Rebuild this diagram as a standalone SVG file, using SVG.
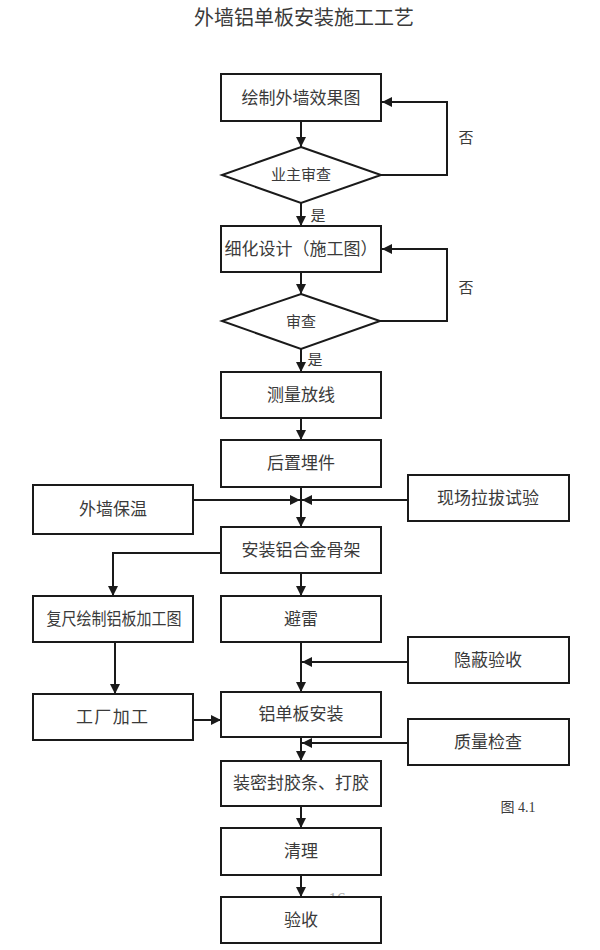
<svg xmlns="http://www.w3.org/2000/svg" width="600" height="950" viewBox="0 0 600 950">
<style>
.box{fill:#fff;stroke:#1a1a1a;stroke-width:2}
.t{font-family:"Noto Sans CJK SC","Noto Sans CJK JP",sans-serif;font-size:17px;fill:#3a3a3a;text-anchor:middle}
.s{font-size:15px}
.ln{fill:none;stroke:#1a1a1a;stroke-width:2}
.lbl{font-family:"Liberation Serif","Noto Sans CJK SC",serif;font-size:15px;fill:#3a3a3a;text-anchor:middle}
</style>
<defs>
<marker id="ah" viewBox="0 0 10 10" refX="10" refY="5" markerWidth="10" markerHeight="10" markerUnits="userSpaceOnUse" orient="auto">
<path d="M0,0 L10,5 L0,10 z" fill="#1a1a1a"/>
</marker>
</defs>
<rect width="600" height="950" fill="#fff"/>
<text x="304" y="25" class="t" style="font-size:20px">外墙铝单板安装施工工艺</text>

<text x="337" y="904" style="font-family:'Liberation Serif',serif;font-size:17px;fill:#aaa;text-anchor:middle">16</text>

<g id="connectors">
<path class="ln" d="M301,121 V147" marker-end="url(#ah)"/>
<path class="ln" d="M381,175 H447 V102 H382" marker-end="url(#ah)"/>
<path class="ln" d="M301,203 V226" marker-end="url(#ah)"/>
<path class="ln" d="M301,272 V294" marker-end="url(#ah)"/>
<path class="ln" d="M380,321 H447 V249 H382" marker-end="url(#ah)"/>
<path class="ln" d="M301,349 V372" marker-end="url(#ah)"/>
<path class="ln" d="M301,418 V440" marker-end="url(#ah)"/>
<path class="ln" d="M301,487 V527" marker-end="url(#ah)"/>
<path class="ln" d="M193,500 H300" marker-end="url(#ah)"/>
<path class="ln" d="M408,500 H302" marker-end="url(#ah)"/>
<path class="ln" d="M221,553 H113 V596" marker-end="url(#ah)"/>
<path class="ln" d="M301,573 V596" marker-end="url(#ah)"/>
<path class="ln" d="M115,642 V694" marker-end="url(#ah)"/>
<path class="ln" d="M301,642 V692" marker-end="url(#ah)"/>
<path class="ln" d="M408,662 H302" marker-end="url(#ah)"/>
<path class="ln" d="M193,720 H221" marker-end="url(#ah)"/>
<path class="ln" d="M301,737 V761" marker-end="url(#ah)"/>
<path class="ln" d="M408,743 H302" marker-end="url(#ah)"/>
<path class="ln" d="M301,806 V828" marker-end="url(#ah)"/>
<path class="ln" d="M301,875 V897" marker-end="url(#ah)"/>
<text x="466" y="143" class="lbl">否</text>
<text x="466" y="293" class="lbl">否</text>
<text x="318" y="221" class="lbl">是</text>
<text x="315" y="365" class="lbl">是</text>
</g>

<g id="n1"><rect class="box" x="221" y="74" width="160" height="47"/><text class="t" x="301" y="104">绘制外墙效果图</text></g>
<g id="d1"><polygon class="box" points="301,147 381,175 301,203 222,175"/><text class="t s" x="301" y="180">业主审查</text></g>
<g id="n2"><rect class="box" x="221" y="226" width="160" height="46"/><text class="t" x="301" y="255">细化设计（施工图）</text></g>
<g id="d2"><polygon class="box" points="301,294 380,321 301,349 222,321"/><text class="t s" x="301" y="327">审查</text></g>
<g id="n3"><rect class="box" x="221" y="372" width="160" height="46"/><text class="t" x="301" y="401">测量放线</text></g>
<g id="n4"><rect class="box" x="221" y="440" width="160" height="47"/><text class="t" x="301" y="469">后置埋件</text></g>
<g id="n5"><rect class="box" x="33" y="485" width="160" height="49"/><text class="t" x="113" y="515">外墙保温</text></g>
<g id="n6"><rect class="box" x="408" y="475" width="161" height="46"/><text class="t" x="488" y="504">现场拉拔试验</text></g>
<g id="n7"><rect class="box" x="221" y="527" width="160" height="46"/><text class="t" x="301" y="556">安装铝合金骨架</text></g>
<g id="n8"><rect class="box" x="33" y="596" width="160" height="46"/><text class="t" x="114" y="625" textLength="135" lengthAdjust="spacingAndGlyphs">复尺绘制铝板加工图</text></g>
<g id="n9"><rect class="box" x="221" y="596" width="160" height="46"/><text class="t" x="301" y="625">避雷</text></g>
<g id="n10"><rect class="box" x="408" y="637" width="161" height="46"/><text class="t" x="488" y="666">隐蔽验收</text></g>
<g id="n11"><rect class="box" x="33" y="694" width="160" height="46"/><text class="t" x="112" y="723" textLength="72">工厂加工</text></g>
<g id="n12"><rect class="box" x="221" y="692" width="160" height="45"/><text class="t" x="301" y="720">铝单板安装</text></g>
<g id="n13"><rect class="box" x="408" y="719" width="161" height="46"/><text class="t" x="488" y="748">质量检查</text></g>
<g id="n14"><rect class="box" x="221" y="761" width="160" height="45"/><text class="t" x="301" y="789">装密封胶条、打胶</text></g>
<g id="n15"><rect class="box" x="221" y="828" width="160" height="47"/><text class="t" x="301" y="857">清理</text></g>
<g id="n16"><rect class="box" x="221" y="897" width="160" height="46"/><text class="t" x="301" y="926">验收</text></g>

<text x="518" y="812" class="lbl" style="font-size:14px">图 4.1</text>
</svg>
